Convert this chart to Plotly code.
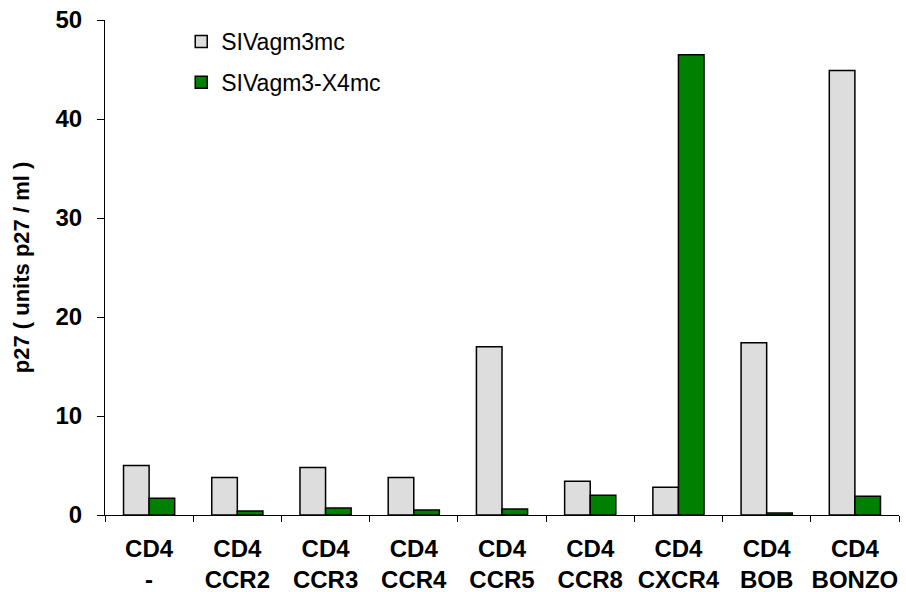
import plotly.graph_objects as go

categories = ["CD4<br>-", "CD4<br>CCR2", "CD4<br>CCR3", "CD4<br>CCR4", "CD4<br>CCR5",
              "CD4<br>CCR8", "CD4<br>CXCR4", "CD4<br>BOB", "CD4<br>BONZO"]
siv_agm3mc = [5.0, 3.8, 4.8, 3.8, 17.0, 3.4, 2.8, 17.4, 44.9]
siv_agm3_x4mc = [1.7, 0.4, 0.7, 0.5, 0.6, 2.0, 46.5, 0.2, 1.9]
y_ticks = [0, 10, 20, 30, 40, 50]

FONT = "Liberation Sans, Arial, sans-serif"

fig = go.Figure()
fig.add_trace(go.Bar(x=categories, y=siv_agm3mc, name="SIVagm3mc", legendgroup="a",
                     marker=dict(color="#DDDDDD", line=dict(color="black", width=1.5))))
fig.add_trace(go.Bar(x=categories, y=siv_agm3_x4mc, name="SIVagm3-X4mc", legendgroup="b",
                     marker=dict(color="#008000", line=dict(color="black", width=1.5))))

fig.update_layout(
    width=906, height=592,
    margin=dict(l=105, r=7, t=20, b=77),
    plot_bgcolor="white", paper_bgcolor="white",
    barmode="group", bargap=0.42, bargroupgap=0,
    font=dict(family=FONT, color="black"),
    legend=dict(x=0.096, y=1.0, xanchor="left", yanchor="top",
                font=dict(size=23, family=FONT),
                bgcolor="rgba(0,0,0,0)", traceorder="grouped", tracegroupgap=8),
    showlegend=True,
)
fig.update_xaxes(
    showline=True, linecolor="black", linewidth=1,
    ticks="outside", tickson="boundaries", ticklen=6, tickcolor="black",
    tickangle=0, ticklabelstandoff=12,
    tickfont=dict(size=24, family=FONT, weight="bold"),
    showgrid=False, automargin=False,
)
fig.update_yaxes(
    range=[0, 50], tickvals=y_ticks,
    showline=True, linecolor="black", linewidth=1,
    ticks="outside", ticklen=7, tickcolor="black", ticklabelstandoff=10,
    ticklabeloverflow="allow",
    tickfont=dict(size=24, family=FONT, weight="bold"),
    showgrid=False, zeroline=False, automargin=False,
    title=dict(text="p27 ( units p27 / ml )", standoff=19,
               font=dict(size=22, family=FONT, weight="bold")),
)

# remove the default 8px page margin so the figure fills the 906x592 window
fig.write_html("out.html", config={"displayModeBar": False},
               post_script="document.body.style.margin='0';")
